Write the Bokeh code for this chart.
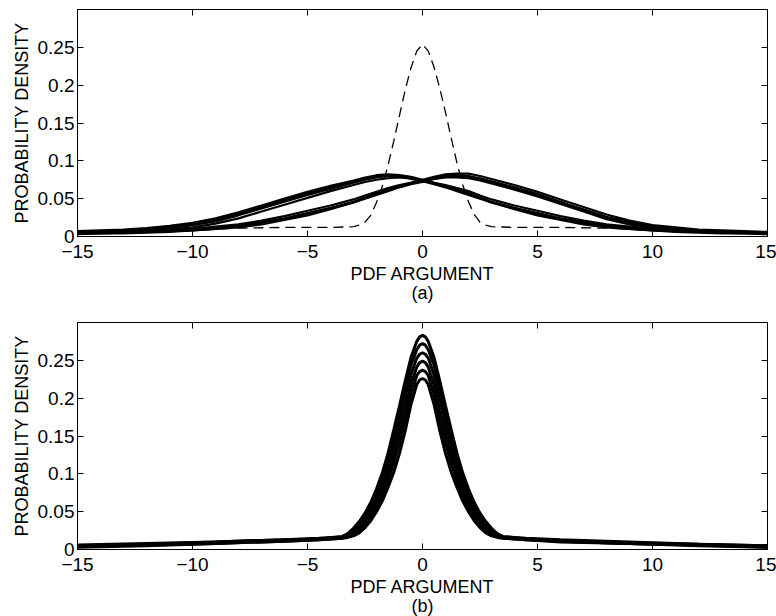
from bokeh.plotting import figure
from bokeh.models import LinearAxis, FixedTicker, Range1d, Title, CustomLabelingPolicy
from bokeh.layouts import column
from bokeh.embed import file_html
from bokeh.resources import INLINE

# ---------------- data ----------------
x_ticks = [-15, -10, -5, 0, 5, 10, 15]
x_tick_labels = ["\u221215", "\u221210", "\u22125", "0", "5", "10", "15"]
y_ticks = [0, 0.05, 0.1, 0.15, 0.2, 0.25]
y_tick_labels = ["0", "0.05", "0.1", "0.15", "0.2", "0.25"]

# panel (a): two families of broad pdfs (peaks left / right of zero) + dashed reference
xa_grid = [-15, -14, -13, -12, -11, -10, -9, -8, -7, -6, -5, -4, -3,
           -2.5, -2, -1.5, -1, -0.5, 0, 0.5, 1, 1.5, 2, 2.5,
           3, 4, 5, 6, 7, 8, 9, 10, 11, 12, 13, 14, 15]
a_left_1 = [.005, .006, .007, .009, .011, .015, .020, .028, .037, .046, .055, .063, .071,
            .075, .078, .080, .080, .078, .074, .070, .066, .062, .057, .051,
            .046, .038, .031, .024, .019, .014, .011, .009, .008, .006, .005, .005, .004]
a_left_2 = [.007, .008, .009, .011, .014, .018, .024, .032, .041, .050, .059, .067, .074,
            .078, .081, .082, .081, .079, .075, .071, .067, .062, .057, .051,
            .045, .036, .028, .022, .016, .012, .010, .008, .006, .005, .004, .004, .003]
a_left_3 = [.004, .005, .006, .007, .009, .012, .017, .024, .033, .042, .051, .060, .068,
            .072, .075, .077, .078, .077, .074, .071, .068, .064, .060, .054,
            .049, .041, .034, .027, .021, .016, .013, .010, .008, .007, .006, .005, .005]
a_left_4 = [.006, .007, .008, .010, .012, .016, .022, .030, .039, .048, .057, .065, .072,
            .076, .079, .080, .079, .076, .073, .069, .065, .060, .055, .050,
            .045, .037, .030, .023, .018, .013, .010, .008, .007, .006, .005, .004, .004]
a_right_1 = [.004, .005, .005, .006, .008, .009, .011, .014, .019, .024, .031, .038, .046,
             .051, .057, .062, .066, .070, .074, .078, .080, .081, .080, .077,
             .073, .065, .056, .046, .035, .025, .018, .013, .010, .008, .006, .005, .005]
a_right_2 = [.003, .004, .004, .005, .006, .008, .010, .012, .016, .022, .028, .036, .045,
             .051, .057, .062, .067, .071, .075, .079, .082, .083, .083, .080,
             .076, .068, .059, .049, .039, .029, .021, .015, .012, .009, .008, .007, .006]
a_right_3 = [.005, .005, .006, .007, .008, .010, .013, .016, .021, .027, .034, .041, .049,
             .054, .059, .064, .068, .071, .073, .076, .078, .078, .077, .074,
             .070, .062, .053, .043, .033, .023, .016, .011, .008, .007, .006, .005, .004]
a_right_4 = [.004, .004, .005, .006, .007, .008, .010, .013, .018, .023, .030, .037, .045,
             .050, .055, .060, .065, .069, .072, .076, .079, .080, .079, .076,
             .072, .064, .055, .045, .036, .026, .019, .013, .010, .008, .006, .005, .005]

xa_dashed = [-15, -12, -10, -8, -6, -4, -3, -2.75, -2.5, -2.25, -2, -1.75, -1.5, -1.25, -1,
             -0.75, -0.5, -0.25, 0, 0.25, 0.5, 0.75, 1, 1.25, 1.5, 1.75, 2, 2.25, 2.5,
             2.75, 3, 4, 6, 8, 10, 12, 15]
a_dashed = [.005, .007, .009, .011, .012, .012, .013, .015, .019, .028, .045, .066, .094, .126, .160,
            .194, .223, .245, .254, .245, .224, .196, .164, .130, .097, .068, .046, .029, .019,
            .015, .013, .012, .012, .011, .009, .007, .005]

# panel (b): family of narrow pdfs centred on zero
xb_grid = [-15, -12, -9, -6, -4.5, -3.5, -3.25, -3, -2.75, -2.5, -2.25, -2, -1.75, -1.5,
           -1.25, -1, -0.75, -0.5, -0.25, -0.125, 0, 0.125, 0.25, 0.5, 0.75, 1, 1.25, 1.5,
           1.75, 2, 2.25, 2.5, 2.75, 3, 3.25, 3.5, 4.5, 6, 9, 12, 15]
b_1 = [0.006, 0.008, 0.010, 0.013, 0.015, 0.017, 0.021, 0.028, 0.037, 0.048, 0.062, 0.080, 0.101,
       0.127, 0.158, 0.190, 0.223, 0.254, 0.275, 0.281, 0.283, 0.281, 0.275, 0.254, 0.223, 0.190,
       0.158, 0.127, 0.101, 0.080, 0.062, 0.048, 0.037, 0.028, 0.021, 0.017, 0.015, 0.013, 0.010,
       0.007, 0.005]
b_2 = [0.005, 0.007, 0.010, 0.013, 0.014, 0.017, 0.020, 0.026, 0.034, 0.044, 0.057, 0.074, 0.094,
       0.119, 0.148, 0.181, 0.214, 0.244, 0.264, 0.270, 0.272, 0.270, 0.264, 0.244, 0.214, 0.181,
       0.148, 0.119, 0.094, 0.074, 0.057, 0.044, 0.034, 0.026, 0.020, 0.017, 0.014, 0.012, 0.009,
       0.007, 0.005]
b_3 = [0.005, 0.007, 0.009, 0.012, 0.014, 0.016, 0.019, 0.024, 0.031, 0.040, 0.052, 0.068, 0.086,
       0.110, 0.137, 0.168, 0.200, 0.231, 0.253, 0.258, 0.260, 0.258, 0.253, 0.231, 0.200, 0.168,
       0.137, 0.110, 0.086, 0.068, 0.052, 0.040, 0.031, 0.024, 0.019, 0.016, 0.014, 0.012, 0.009,
       0.006, 0.004]
b_4 = [0.004, 0.006, 0.009, 0.012, 0.014, 0.016, 0.018, 0.022, 0.028, 0.037, 0.048, 0.062, 0.079,
       0.100, 0.125, 0.154, 0.185, 0.218, 0.241, 0.247, 0.249, 0.247, 0.241, 0.218, 0.185, 0.154,
       0.125, 0.100, 0.079, 0.062, 0.048, 0.037, 0.028, 0.022, 0.018, 0.016, 0.014, 0.011, 0.008,
       0.006, 0.004]
b_5 = [0.004, 0.006, 0.008, 0.011, 0.013, 0.015, 0.017, 0.020, 0.025, 0.033, 0.043, 0.056, 0.071,
       0.091, 0.114, 0.141, 0.171, 0.205, 0.230, 0.235, 0.237, 0.235, 0.230, 0.205, 0.171, 0.141,
       0.114, 0.091, 0.071, 0.056, 0.043, 0.033, 0.025, 0.020, 0.017, 0.015, 0.013, 0.011, 0.008,
       0.006, 0.003]
b_6 = [0.003, 0.005, 0.008, 0.011, 0.013, 0.015, 0.016, 0.018, 0.022, 0.029, 0.038, 0.050, 0.064,
       0.082, 0.102, 0.127, 0.157, 0.192, 0.218, 0.224, 0.226, 0.224, 0.218, 0.192, 0.157, 0.127,
       0.102, 0.082, 0.064, 0.050, 0.038, 0.029, 0.022, 0.018, 0.016, 0.015, 0.013, 0.010, 0.008,
       0.005, 0.003]

FONT = "Liberation Sans"
TICK_FS = "19px"
LABEL_FS = "18px"

NO_LABELS = CustomLabelingPolicy(code="""
    const all = [...indices]
    for (const i of all) { indices.unset(i) }
    return indices
""")


def make_fig(width, height, left, right, top, bottom, tag):
    p = figure(width=width, height=height, x_range=Range1d(-15, 15), y_range=Range1d(0, 0.3),
               output_backend="svg", toolbar_location=None,
               min_border_left=left, min_border_right=right,
               min_border_top=top, min_border_bottom=bottom)
    p.grid.visible = False
    p.outline_line_color = "black"
    p.outline_line_width = 1
    p.background_fill_color = "white"
    p.border_fill_color = "white"
    xa = p.xaxis[0]
    ya = p.yaxis[0]
    for ax, ticks, labels in ((xa, x_ticks, x_tick_labels), (ya, y_ticks, y_tick_labels)):
        ax.ticker = FixedTicker(ticks=ticks)
        ax.major_label_overrides = dict(zip(ticks, labels))
        ax.major_tick_in = 6
        ax.major_tick_out = 0
        ax.minor_tick_in = 0
        ax.minor_tick_out = 0
        ax.major_tick_line_color = "black"
        ax.axis_line_color = "black"
        ax.major_label_text_font = FONT
        ax.major_label_text_font_size = TICK_FS
        ax.major_label_text_color = "black"
        ax.axis_label_text_font = FONT
        ax.axis_label_text_font_size = LABEL_FS
        ax.axis_label_text_font_style = "normal"
        ax.axis_label_text_color = "black"
    xa.axis_label = "PDF ARGUMENT"
    ya.axis_label = "PROBABILITY DENSITY"
    xa.major_label_standoff = 8
    ya.major_label_standoff = 3
    xa.axis_label_standoff = 3
    ya.axis_label_standoff = 3

    for loc, ticks in (("above", x_ticks), ("right", y_ticks)):
        ax = LinearAxis(ticker=FixedTicker(ticks=ticks), major_tick_in=6, major_tick_out=0,
                        minor_tick_in=0, minor_tick_out=0, major_label_text_font_size="1px",
                        major_label_standoff=0, major_label_policy=NO_LABELS,
                        axis_line_color="black", major_tick_line_color="black")
        p.add_layout(ax, loc)

    p.add_layout(Title(text=tag, align="center", text_font=FONT, text_font_size=LABEL_FS,
                       text_font_style="normal", text_color="black", standoff=-11), "below")
    return p


p1 = make_fig(776, 314, 75, 9, 9, 78, "(a)")
for ys in (a_left_1, a_left_2, a_left_3, a_left_4, a_right_1, a_right_2, a_right_3, a_right_4):
    p1.line(xa_grid, ys, line_color="black", line_width=2.2)
p1.line(xa_dashed, a_dashed, line_color="black", line_width=1.3, line_dash="10 6")

p2 = make_fig(776, 302, 77, 7, 8, 67, "(b)")
for ys in (b_1, b_2, b_3, b_4, b_5, b_6):
    p2.line(xb_grid, ys, line_color="black", line_width=3)

layout = column(p1, p2)
open("out.html", "w").write(file_html(layout, INLINE))
